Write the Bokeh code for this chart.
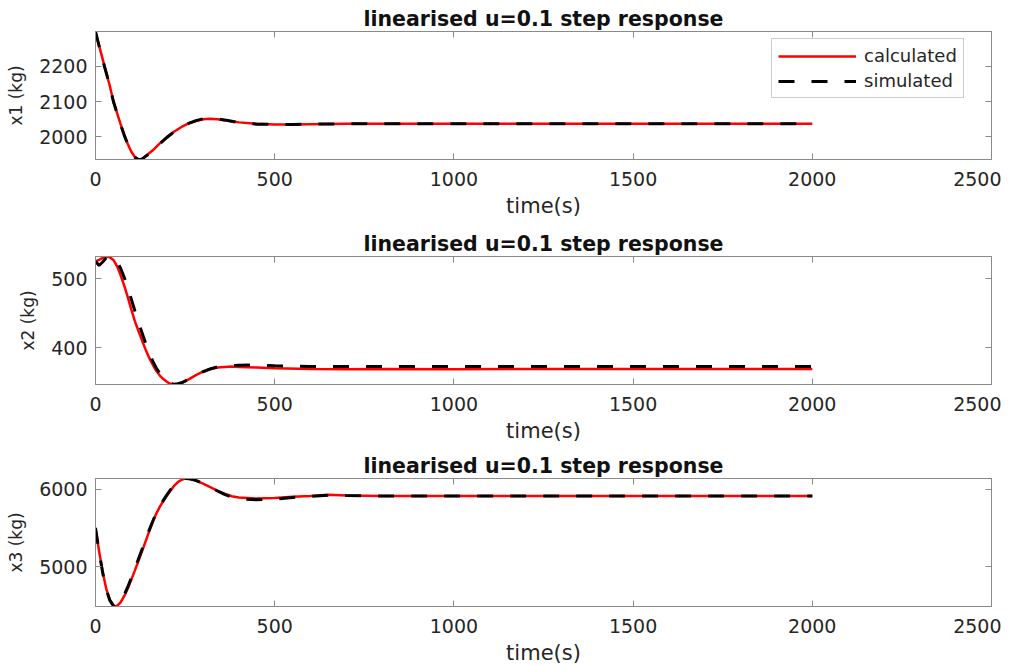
from bokeh.plotting import figure
from bokeh.layouts import column
from bokeh.models import LinearAxis, FixedTicker, Range1d, Legend, LegendItem
from bokeh.embed import file_html
from bokeh.resources import INLINE

# ---------------- data ----------------
title_text = "linearised u=0.1 step response"
x_label = "time(s)"
y_labels = ["x1 (kg)", "x2 (kg)", "x3 (kg)"]
series_names = ["calculated", "simulated"]
x_ticks = [0, 500, 1000, 1500, 2000, 2500]
y_ticks = [[2000, 2100, 2200], [400, 500], [5000, 6000]]

t1 = [0, 10, 20, 25, 30, 40, 50, 60, 70, 80, 90, 100, 110, 120, 130, 140, 160, 180, 200,
      220, 240, 260, 280, 300, 320, 340, 360, 380, 400, 450, 500, 550, 600, 700, 800,
      1000, 1200, 1500, 2000]
x1_calc = [2298, 2258, 2220, 2200, 2182, 2144, 2100, 2068, 2036, 2006, 1980, 1958, 1943,
           1936, 1938, 1946, 1962, 1982, 2000, 2015, 2028, 2038, 2045, 2050, 2051, 2050,
           2047, 2044, 2041, 2037, 2035, 2035, 2036, 2037, 2037, 2037, 2037, 2037, 2037]
x1_sim = [2298, 2257, 2219, 2199, 2181, 2143, 2100, 2067, 2035, 2005, 1979, 1957, 1942,
          1936, 1937, 1945, 1961, 1981, 1999, 2015, 2028, 2038, 2046, 2051, 2052, 2051,
          2048, 2044, 2040, 2036, 2035, 2035, 2036, 2037, 2037, 2037, 2037, 2037, 2037]

t2 = [0, 10, 20, 30, 40, 50, 60, 70, 80, 90, 100, 110, 120, 130, 140, 150, 160, 170, 180,
      190, 200, 210, 220, 230, 240, 260, 280, 300, 320, 340, 360, 380, 400, 450, 500, 600,
      700, 800, 1000, 1200, 1500, 2000]
x2_calc = [525, 527, 530, 532, 531, 527, 518, 505, 490, 473, 455, 438, 424, 410, 397, 385,
           375, 366, 359, 354, 350, 347.5, 346.5, 347, 349, 354, 360, 365, 369, 371, 372,
           372.5, 372, 371, 370, 369, 368.5, 369, 368.5, 369, 369, 369]
x2_sim = [525, 519, 524, 530, 532, 530, 525, 515, 502, 487, 470, 453, 437, 421, 406, 392,
          380, 370, 362, 356, 351, 348, 347, 347.5, 349, 354, 360, 365, 369, 372, 373, 374,
          374.5, 375, 373.5, 372.5, 372.5, 372.5, 372.5, 372.5, 372.5, 372.5]

t3 = [0, 10, 20, 30, 40, 50, 55, 60, 70, 80, 90, 100, 110, 120, 130, 140, 150, 160, 170,
      180, 190, 200, 210, 220, 230, 240, 250, 260, 280, 300, 320, 340, 360, 380, 400, 450,
      500, 550, 600, 650, 700, 800, 1000, 1200, 1500, 2000]
x3_calc = [5500, 5200, 4930, 4710, 4570, 4495, 4482, 4488, 4535, 4615, 4715, 4830, 4950,
           5075, 5200, 5330, 5460, 5580, 5690, 5780, 5855, 5925, 5990, 6050, 6095, 6125,
           6140, 6138, 6115, 6075, 6030, 5985, 5945, 5912, 5895, 5882, 5890, 5905, 5915,
           5930, 5920, 5915, 5915, 5915, 5915, 5915]
x3_sim = [5500, 5190, 4920, 4700, 4560, 4490, 4481, 4490, 4545, 4630, 4735, 4855, 4975,
          5100, 5225, 5350, 5475, 5590, 5700, 5790, 5865, 5935, 6000, 6055, 6100, 6128,
          6142, 6140, 6118, 6078, 6030, 5980, 5935, 5900, 5880, 5865, 5875, 5895, 5910,
          5925, 5920, 5915, 5915, 5915, 5915, 5915]

panels = [(t1, x1_calc, x1_sim), (t2, x2_calc, x2_sim), (t3, x3_calc, x3_sim)]

# ---------------- style ----------------
FONT = "DejaVu Sans"
FRAME_COLOR = "#8a8a8a"
TEXT_COLOR = "#262626"
top_borders = [31, 26, 24]
bottom_borders = [69, 66, 52]


def style_axis(ax, ticks, labels=True):
    ax.major_tick_in = 6
    ax.major_tick_out = 0
    ax.minor_tick_line_color = None
    ax.axis_line_color = FRAME_COLOR
    ax.major_tick_line_color = FRAME_COLOR
    ax.major_label_text_font = FONT
    ax.major_label_text_color = TEXT_COLOR
    if labels:
        ax.major_label_text_font_size = "19px"
    else:
        ax.major_label_overrides = {tk: "" for tk in ticks}
        ax.major_label_text_font_size = "1px"
        ax.major_label_standoff = 0


figs = []
for i, (t, calc, sim) in enumerate(panels):
    ymin = min(min(calc), min(sim))
    ymax = max(max(calc), max(sim))
    p = figure(frame_width=896, frame_height=128,
               min_border_left=95, min_border_right=10,
               min_border_top=top_borders[i], min_border_bottom=bottom_borders[i],
               x_range=Range1d(0, 2500), y_range=Range1d(ymin, ymax),
               output_backend="svg", toolbar_location=None,
               title=title_text)
    p.title.align = "center"
    p.title.text_font = FONT
    p.title.text_font_style = "bold"
    p.title.text_font_size = "20.5px"
    p.title.text_color = "#111111"
    p.title.standoff = 2
    p.grid.visible = False
    p.outline_line_color = FRAME_COLOR
    p.background_fill_color = "white"
    p.border_fill_color = "white"

    p.xaxis.ticker = FixedTicker(ticks=x_ticks)
    p.yaxis.ticker = FixedTicker(ticks=y_ticks[i])
    style_axis(p.xaxis[0], x_ticks)
    style_axis(p.yaxis[0], y_ticks[i])
    p.xaxis.major_label_standoff = 12
    p.yaxis.major_label_standoff = 8
    p.xaxis.axis_label = x_label
    p.xaxis.axis_label_text_font = FONT
    p.xaxis.axis_label_text_font_size = "21px"
    p.xaxis.axis_label_text_font_style = "normal"
    p.xaxis.axis_label_text_color = TEXT_COLOR
    p.xaxis.axis_label_standoff = 5
    p.yaxis.axis_label = y_labels[i]
    p.yaxis.axis_label_text_font = FONT
    p.yaxis.axis_label_text_font_size = "17px"
    p.yaxis.axis_label_text_font_style = "normal"
    p.yaxis.axis_label_text_color = TEXT_COLOR
    p.yaxis.axis_label_standoff = 10

    top_ax = LinearAxis(ticker=FixedTicker(ticks=x_ticks))
    style_axis(top_ax, x_ticks, labels=False)
    p.add_layout(top_ax, "above")
    right_ax = LinearAxis(ticker=FixedTicker(ticks=y_ticks[i]))
    style_axis(right_ax, y_ticks[i], labels=False)
    p.add_layout(right_ax, "right")

    r_calc = p.line(t, calc, line_color="#ff0000", line_width=2.5)
    r_sim = p.line(t, sim, line_color="#000000", line_width=3, line_dash="16 17")

    if i == 0:
        legend = Legend(items=[LegendItem(label=series_names[0], renderers=[r_calc]),
                               LegendItem(label=series_names[1], renderers=[r_sim])],
                        location=(676, 61))
        legend.label_text_font = FONT
        legend.label_text_font_size = "18px"
        legend.label_text_color = TEXT_COLOR
        legend.glyph_width = 78
        legend.glyph_height = 20
        legend.label_height = 20
        legend.label_width = 0
        legend.label_standoff = 8
        legend.spacing = 4
        legend.padding = 6
        legend.margin = 0
        legend.border_line_color = "#9a9a9a"
        legend.border_line_width = 1
        legend.background_fill_color = "white"
        legend.background_fill_alpha = 1
        p.add_layout(legend, "center")
    figs.append(p)

layout = column(*figs, spacing=0)
open("out.html", "w").write(file_html(layout, INLINE))
